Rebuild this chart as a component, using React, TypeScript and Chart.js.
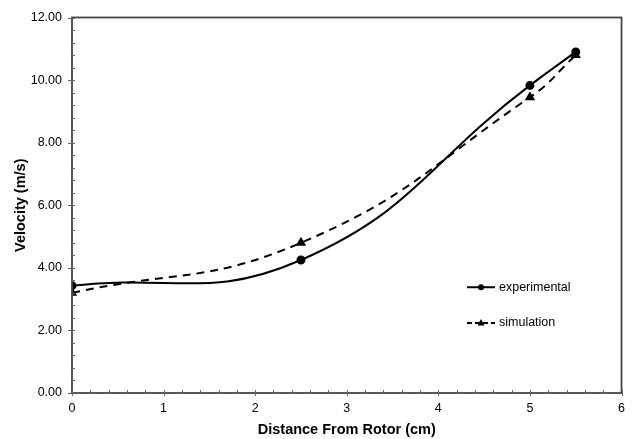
import React, { useEffect, useRef } from "react";
import { Chart, registerables } from "chart.js";

Chart.register(...registerables);

const distance = [0, 2.5, 5, 5.5];
const experimental = [3.43, 4.25, 9.83, 10.9];
const simulation = [3.2, 4.8, 9.45, 10.8];
const xTickValues = [0, 1, 2, 3, 4, 5, 6];
const yTickValues = [0, 2, 4, 6, 8, 10, 12];
const legendLabels = ["experimental", "simulation"];

const FONT = "'Liberation Sans', Arial, sans-serif";
const AXIS_COLOR = "#454545";

const framePlugin = {
  id: "frame",
  afterDraw(chart: any) {
    const { ctx, chartArea, scales } = chart;
    const xs = scales.x;
    const ys = scales.y;
    ctx.save();
    ctx.strokeStyle = AXIS_COLOR;
    ctx.lineWidth = 1.8;
    ctx.strokeRect(chartArea.left, chartArea.top, chartArea.right - chartArea.left, chartArea.bottom - chartArea.top);
    ctx.lineWidth = 1;
    ctx.strokeStyle = "#666";
    for (let i = 0; i <= 30; i++) {
      const v = i * 0.2;
      const px = Math.round(xs.getPixelForValue(v)) + 0.5;
      const major = i % 5 === 0;
      ctx.beginPath();
      ctx.moveTo(px, chartArea.bottom - 3);
      ctx.lineTo(px, chartArea.bottom + (major ? 3 : 1));
      ctx.stroke();
    }
    for (let i = 0; i <= 30; i++) {
      const v = i * 0.4;
      const py = Math.round(ys.getPixelForValue(v)) + 0.5;
      const major = i % 5 === 0;
      ctx.beginPath();
      ctx.moveTo(chartArea.left - (major ? 4 : 1), py);
      ctx.lineTo(chartArea.left + 3, py);
      ctx.stroke();
    }
    const items = [
      { label: legendLabels[0], dash: [] as number[], style: "circle", y: ys.getPixelForValue(3.38) },
      { label: legendLabels[1], dash: [5, 3], style: "triangle", y: ys.getPixelForValue(2.24) },
    ];
    const lx0 = 467;
    const lx1 = 495;
    items.forEach((it) => {
      ctx.strokeStyle = "#000";
      ctx.fillStyle = "#000";
      ctx.lineWidth = 2;
      ctx.setLineDash(it.dash);
      ctx.beginPath();
      ctx.moveTo(lx0, it.y);
      ctx.lineTo(lx1, it.y);
      ctx.stroke();
      ctx.setLineDash([]);
      const cx = (lx0 + lx1) / 2;
      ctx.beginPath();
      if (it.style === "circle") {
        ctx.arc(cx, it.y, 3, 0, Math.PI * 2);
      } else {
        ctx.moveTo(cx, it.y - 4);
        ctx.lineTo(cx + 3.5, it.y + 2.5);
        ctx.lineTo(cx - 3.5, it.y + 2.5);
        ctx.closePath();
      }
      ctx.fill();
      ctx.font = `12.5px ${FONT}`;
      ctx.textAlign = "left";
      ctx.textBaseline = "middle";
      ctx.fillStyle = "#000";
      ctx.fillText(it.label, lx1 + 4, it.y);
    });
    ctx.restore();
  },
};

export default function App() {
  const ref = useRef<HTMLCanvasElement | null>(null);
  useEffect(() => {
    document.body.style.margin = "0";
    const canvas = ref.current!;
    const chart = new Chart(canvas, {
      type: "line",
      data: {
        datasets: [
          {
            label: legendLabels[0],
            data: distance.map((x, i) => ({ x, y: experimental[i] })),
            borderColor: "#000",
            backgroundColor: "#000",
            borderWidth: 2,
            pointStyle: "circle",
            pointRadius: 3.5,
            tension: 0.45,
          },
          {
            label: legendLabels[1],
            data: distance.map((x, i) => ({ x, y: simulation[i] })),
            borderColor: "#000",
            backgroundColor: "#000",
            borderWidth: 2,
            borderDash: [8, 6],
            pointStyle: "triangle",
            pointRadius: 4,
            tension: 0.45,
          },
        ],
      },
      options: {
        responsive: false,
        animation: false,
        layout: { padding: { top: 15, right: 11, left: 0, bottom: 0 } },
        plugins: { legend: { display: false }, tooltip: { enabled: false } },
        scales: {
          x: {
            type: "linear",
            min: 0,
            max: 6,
            afterBuildTicks: (s: any) => {
              s.ticks = xTickValues.map((v) => ({ value: v }));
            },
            afterFit: (s: any) => {
              s.height = 46;
            },
            grid: { display: false, drawTicks: false },
            border: { display: false },
            ticks: {
              color: "#000",
              font: { family: FONT, size: 12.5 },
              padding: 8,
              maxRotation: 0,
              callback: (v: any) => String(v),
            },
            title: {
              display: true,
              text: "Distance From Rotor (cm)",
              color: "#000",
              font: { family: FONT, size: 14.5, weight: "bold" },
              padding: { top: 4, bottom: 0 },
            },
          },
          y: {
            type: "linear",
            min: 0,
            max: 12,
            afterBuildTicks: (s: any) => {
              s.ticks = yTickValues.map((v) => ({ value: v }));
            },
            afterFit: (s: any) => {
              s.width = 72;
            },
            grid: { display: false, drawTicks: false },
            border: { display: false },
            ticks: {
              color: "#000",
              font: { family: FONT, size: 12.5 },
              padding: 10,
              callback: (v: any) => Number(v).toFixed(2),
            },
            title: {
              display: true,
              text: "Velocity (m/s)",
              color: "#000",
              font: { family: FONT, size: 14.5, weight: "bold" },
              padding: { top: 12, bottom: 0 },
            },
          },
        },
      },
      plugins: [framePlugin],
    });
    return () => chart.destroy();
  }, []);
  return (
    <div style={{ position: "absolute", left: 0, top: 0, width: 633, height: 439, background: "#fff" }}>
      <canvas ref={ref} width={633} height={439} />
    </div>
  );
}
